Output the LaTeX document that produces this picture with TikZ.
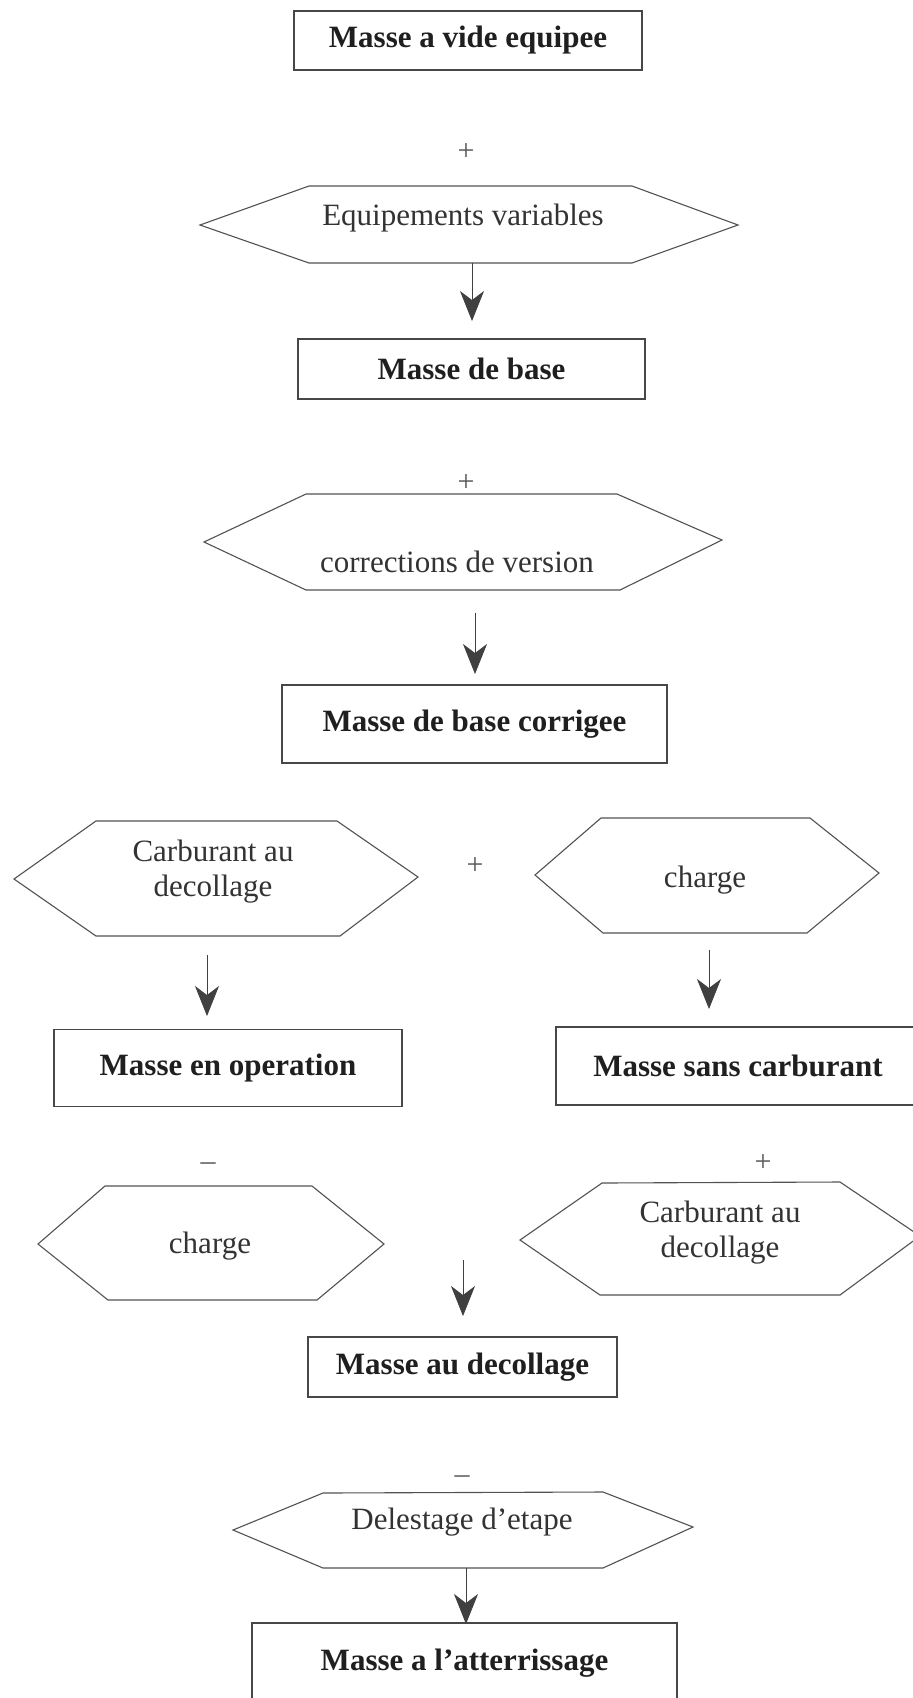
\documentclass[tikz,border=0pt]{standalone}
\usepackage{fontspec}
\setmainfont{Liberation Serif}
\usetikzlibrary{arrows.meta}
\begin{document}
\begin{tikzpicture}[x=1pt,y=-1pt,
  box/.style={draw=black!72, line width=1.4pt, rectangle, inner sep=0pt,
              font=\bfseries\fontsize{31}{36}\selectfont, text=black!88},
  hexline/.style={draw=black!68, line width=1.1pt, line join=miter},
  lbl/.style={font=\fontsize{31}{34}\selectfont, text=black!80, align=center, inner sep=0pt},
  sign/.style={font=\fontsize{30}{30}\selectfont, text=black!65, inner sep=0pt},
  arr/.style={draw=black!75, line width=0.9pt, -{Stealth[length=30pt,width=24pt,inset=9pt]}}
]
\useasboundingbox (0,0) rectangle (913,1698);
\clip (0,0) rectangle (913,1698);
\fill[white] (0,0) rectangle (913,1698);

% ---------- boxes ----------
\node[box, minimum width=348pt, minimum height=59pt] (b1) at (468,40.5) {Masse a vide equipee};
\node[box, minimum width=347pt, minimum height=60pt] (b2) at (471.5,369) {Masse de base};
\node[box, minimum width=385pt, minimum height=78pt] (b3) at (474.5,724) {Masse de base corrigee};
\node[box, minimum width=348pt, minimum height=77pt] (b4) at (228,1068) {Masse en operation};
\node[box, minimum width=364pt, minimum height=78pt] (b5) at (738,1066) {Masse sans carburant};
\node[box, minimum width=309pt, minimum height=60pt] (b6) at (462.5,1367) {Masse au decollage};
\node[box, minimum width=425pt, minimum height=80pt] (b7) at (464.5,1663) {Masse a l'atterrissage};

% ---------- hexagons ----------
\draw[hexline] (200,225) -- (309,186) -- (632,186) -- (738,225) -- (632,263) -- (309,263) -- cycle;
\node[lbl] (h1) at (463,218) {Equipements variables};

\draw[hexline] (204,542) -- (306,494) -- (617,494) -- (722,540) -- (620,590) -- (306,590) -- cycle;
\node[lbl] (h2) at (457,562) {corrections de version};

\draw[hexline] (14,879) -- (96,821) -- (337,821) -- (418,877) -- (340,936) -- (96,936) -- cycle;
\node[lbl] (h3) at (213,872) {Carburant au\\[1pt]decollage};

\draw[hexline] (535,875) -- (601,818) -- (810,818) -- (879,873) -- (807,933) -- (603,933) -- cycle;
\node[lbl] (h4) at (705,880) {charge};

\draw[hexline] (38,1244) -- (105,1186) -- (312,1186) -- (384,1244) -- (317,1300) -- (108,1300) -- cycle;
\node[lbl] (h5) at (210,1246) {charge};

\draw[hexline] (520,1240) -- (602,1183) -- (840,1182) -- (920,1236) -- (840,1295) -- (600,1295) -- cycle;
\node[lbl] (h6) at (720,1233) {Carburant au\\[1pt]decollage};

\draw[hexline] (233,1530) -- (323,1493) -- (603,1492) -- (693,1527) -- (603,1568) -- (323,1568) -- cycle;
\node[lbl] (h7) at (462,1522) {Delestage d'etape};

% ---------- signs ----------
\node[sign] (s1) at (466,152) {+};
\node[sign] (s2) at (466,483) {+};
\node[sign] (s3) at (475,866) {+};
\node[sign] (s4) at (208,1167) {--};
\node[sign] (s5) at (763,1163) {+};
\node[sign] (s6) at (462,1480) {--};

% ---------- arrows ----------
\coordinate (a1s) at (472,263);  \coordinate (a1e) at (472,321);
\coordinate (a2s) at (475,613);  \coordinate (a2e) at (475,674);
\coordinate (a3s) at (207,955);  \coordinate (a3e) at (207,1016);
\coordinate (a4s) at (709,950);  \coordinate (a4e) at (709,1009);
\coordinate (a5s) at (463,1260); \coordinate (a5e) at (463,1316);
\coordinate (a6s) at (466,1568); \coordinate (a6e) at (466,1624);
\draw[arr] (a1s) -- (a1e);
\draw[arr] (a2s) -- (a2e);
\draw[arr] (a3s) -- (a3e);
\draw[arr] (a4s) -- (a4e);
\draw[arr] (a5s) -- (a5e);
\draw[arr] (a6s) -- (a6e);
\end{tikzpicture}
\end{document}
